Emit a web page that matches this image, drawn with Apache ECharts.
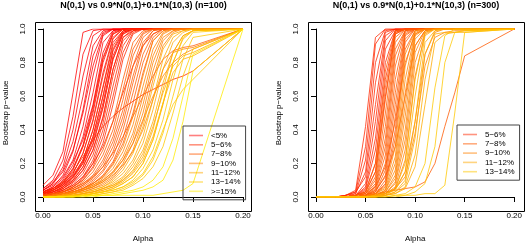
<!DOCTYPE html>
<html><head><meta charset="utf-8">
<script src="https://cdn.jsdelivr.net/npm/echarts@6/dist/echarts.min.js"></script>
<style>html,body{margin:0;padding:0;background:#fff}#c{width:525px;height:248px}</style>
</head><body><div id="c"></div>
<script>
// x positions (alpha grid)
const alpha = [0,0.01,0.02,0.03,0.04,0.05,0.06,0.07,0.08,0.09,0.10,0.11,0.12,0.13,0.14,0.15,0.20];
const xTickLabels = ['0.00','0.05','0.10','0.15','0.20'];
const yTickLabels = ['0.0','0.2','0.4','0.6','0.8','1.0'];
const titleLeft = 'N(0,1) vs 0.9*N(0,1)+0.1*N(10,3) (n=100)';
const titleRight = 'N(0,1) vs 0.9*N(0,1)+0.1*N(10,3) (n=300)';
const xName = 'Alpha';
const yName = 'Bootstrap p\u2212value';
const groupsLeft = ['<5%','5\u22126%','7\u22128%','9\u221210%','11\u221212%','13\u221214%','>=15%'];
const groupsRight = ['5\u22126%','7\u22128%','9\u221210%','11\u221212%','13\u221214%'];

// ---- left panel (n=100) ----
const left_lt5 = [
[.07,.13,.27,.62,.98,1,1,1,1,1,1,1,1,1,1,1,1],
[.05,.10,.22,.48,.85,.99,1,1,1,1,1,1,1,1,1,1,1],
[.04,.08,.18,.40,.72,.96,1,1,1,1,1,1,1,1,1,1,1],
[.05,.09,.16,.33,.60,.90,.99,1,1,1,1,1,1,1,1,1,1],
[.04,.08,.15,.28,.50,.78,.97,1,1,1,1,1,1,1,1,1,1],
[.03,.06,.13,.27,.52,.84,.98,1,1,1,1,1,1,1,1,1,1],
[.04,.07,.12,.22,.42,.72,.96,1,1,1,1,1,1,1,1,1,1],
[.02,.05,.10,.19,.36,.62,.92,.99,1,1,1,1,1,1,1,1,1],
[.03,.05,.09,.17,.31,.54,.83,.98,1,1,1,1,1,1,1,1,1],
[.03,.06,.11,.21,.34,.55,.86,.99,1,1,1,1,1,1,1,1,1],
[.02,.04,.08,.16,.30,.50,.80,.97,1,1,1,1,1,1,1,1,1],
[.02,.04,.07,.14,.26,.46,.74,.95,1,1,1,1,1,1,1,1,1],
[.03,.05,.08,.13,.22,.40,.66,.92,.99,1,1,1,1,1,1,1,1],
[.01,.03,.06,.12,.21,.36,.60,.87,.98,1,1,1,1,1,1,1,1],
[.02,.04,.07,.12,.20,.34,.56,.84,.98,1,1,1,1,1,1,1,1],
[.02,.03,.06,.10,.18,.31,.53,.82,.97,1,1,1,1,1,1,1,1],
[.01,.02,.05,.09,.16,.28,.47,.76,.95,.99,1,1,1,1,1,1,1]
];
const left_5_6 = [
[.03,.05,.09,.17,.30,.52,.82,.97,1,1,1,1,1,1,1,1,1],
[.02,.04,.08,.14,.26,.45,.72,.94,1,1,1,1,1,1,1,1,1],
[.02,.04,.07,.12,.22,.40,.65,.90,.99,1,1,1,1,1,1,1,1],
[.01,.03,.06,.11,.20,.36,.60,.88,.99,1,1,1,1,1,1,1,1],
[.02,.03,.05,.10,.18,.32,.54,.82,.97,1,1,1,1,1,1,1,1],
[.01,.03,.05,.09,.16,.28,.48,.76,.95,1,1,1,1,1,1,1,1],
[.01,.02,.04,.08,.14,.25,.44,.72,.93,.99,1,1,1,1,1,1,1],
[.01,.02,.04,.07,.12,.22,.40,.66,.90,.99,1,1,1,1,1,1,1],
[.01,.02,.03,.06,.11,.20,.36,.60,.86,.98,1,1,1,1,1,1,1],
[.00,.01,.03,.06,.10,.18,.32,.55,.82,.97,1,1,1,1,1,1,1],
[.03,.05,.09,.15,.24,.34,.42,.48,.53,.57,.61,.64,.67,.70,.72,.75,1],
[.01,.02,.04,.07,.12,.20,.30,.45,.62,.78,.90,.97,1,1,1,1,1]
];
const left_7_8 = [
[.01,.02,.03,.06,.10,.17,.28,.45,.70,.92,.99,1,1,1,1,1,1],
[.01,.02,.03,.05,.09,.15,.25,.40,.64,.88,.98,1,1,1,1,1,1],
[.00,.01,.03,.05,.08,.13,.22,.36,.58,.84,.97,1,1,1,1,1,1],
[.00,.01,.02,.04,.07,.12,.20,.33,.52,.78,.95,1,1,1,1,1,1],
[.01,.01,.02,.04,.07,.11,.18,.30,.48,.72,.92,.99,1,1,1,1,1],
[.00,.01,.02,.04,.06,.10,.16,.27,.44,.68,.90,.99,1,1,1,1,1],
[.00,.01,.02,.03,.05,.09,.15,.24,.40,.62,.85,.97,1,1,1,1,1],
[.01,.02,.03,.05,.08,.12,.18,.26,.36,.48,.60,.72,.82,.87,.89,.90,1],
[.00,.01,.02,.03,.05,.08,.13,.21,.35,.56,.80,.95,1,1,1,1,1],
[.00,.01,.01,.03,.05,.08,.12,.20,.32,.50,.74,.93,.99,1,1,1,1]
];
const left_9_10 = [
[.00,.01,.02,.03,.05,.08,.12,.19,.30,.48,.72,.93,.99,1,1,1,1],
[.00,.01,.01,.03,.04,.07,.11,.17,.27,.43,.66,.88,.98,1,1,1,1],
[.00,.00,.01,.02,.04,.06,.10,.15,.24,.38,.60,.84,.97,1,1,1,1],
[.00,.01,.01,.02,.04,.06,.09,.14,.22,.35,.55,.80,.95,.99,1,1,1],
[.00,.00,.01,.02,.03,.05,.08,.12,.20,.32,.50,.75,.93,.99,1,1,1],
[.00,.01,.02,.03,.05,.07,.10,.15,.22,.32,.46,.60,.72,.80,.85,.88,1],
[.00,.00,.01,.02,.03,.05,.07,.11,.18,.28,.45,.70,.90,.98,1,1,1],
[.00,.01,.01,.02,.04,.06,.09,.13,.19,.27,.40,.58,.76,.86,.88,.89,1]
];
const left_11_12 = [
[.00,.00,.01,.02,.03,.04,.06,.10,.16,.26,.42,.66,.88,.97,.99,1,1],
[.00,.00,.01,.01,.02,.04,.06,.09,.14,.22,.36,.58,.82,.95,.99,1,1],
[.00,.00,.01,.01,.02,.03,.05,.08,.12,.20,.32,.52,.76,.92,.98,1,1],
[.00,.00,.00,.01,.02,.03,.05,.07,.11,.18,.28,.45,.68,.86,.96,.99,1],
[.00,.00,.01,.01,.02,.03,.04,.06,.10,.16,.26,.42,.62,.78,.84,.86,1],
[.00,.00,.00,.01,.01,.02,.04,.06,.09,.14,.22,.36,.56,.74,.82,.84,1],
[.00,.00,.01,.01,.02,.03,.05,.07,.10,.15,.24,.40,.64,.86,.96,.99,1],
[.00,.00,.00,.01,.01,.02,.03,.05,.08,.12,.20,.34,.55,.80,.94,.99,1]
];
const left_13_14 = [
[.00,.00,.00,.01,.01,.02,.03,.05,.08,.12,.20,.34,.56,.80,.95,.99,1],
[.00,.00,.00,.00,.01,.02,.03,.04,.06,.10,.17,.28,.46,.70,.90,.98,1],
[.00,.00,.00,.00,.01,.01,.02,.03,.05,.08,.13,.22,.38,.60,.82,.95,1],
[.00,.00,.00,.01,.01,.02,.03,.04,.06,.09,.14,.24,.40,.55,.64,.70,1],
[.00,.00,.00,.00,.01,.01,.02,.03,.04,.07,.11,.18,.30,.50,.72,.88,1]
];
const left_ge15 = [
[.00,.00,.00,.00,.00,.00,.01,.01,.01,.01,.01,.01,.02,.03,.04,.08,1],
[.00,.00,.00,.00,.00,.01,.01,.01,.02,.03,.04,.06,.10,.22,.45,.75,1],
[.00,.00,.00,.00,.01,.01,.01,.02,.03,.04,.06,.10,.18,.35,.60,.85,1]
];

// ---- right panel (n=300) ----
const right_5_6 = [
[0,0,0,.01,.03,.30,.91,1,1,1,1,1,1,1,1,1,1],
[0,0,0,.01,.04,.42,.95,1,1,1,1,1,1,1,1,1,1],
[0,0,0,.01,.02,.22,.80,.99,1,1,1,1,1,1,1,1,1],
[0,0,0,0,.02,.15,.68,.98,1,1,1,1,1,1,1,1,1],
[0,0,0,.01,.03,.12,.55,.96,1,1,1,1,1,1,1,1,1],
[0,0,0,0,.01,.08,.45,.93,1,1,1,1,1,1,1,1,1],
[0,0,0,0,.01,.06,.35,.88,.99,1,1,1,1,1,1,1,1],
[0,0,0,0,.01,.05,.28,.80,.99,1,1,1,1,1,1,1,1],
[0,0,0,0,.01,.04,.20,.70,.98,1,1,1,1,1,1,1,1],
[0,0,0,0,.01,.03,.15,.60,.97,1,1,1,1,1,1,1,1]
];
const right_7_8 = [
[0,0,0,0,.01,.03,.20,.75,.99,1,1,1,1,1,1,1,1],
[0,0,0,0,.01,.03,.15,.65,.98,1,1,1,1,1,1,1,1],
[0,0,0,0,.01,.02,.12,.58,.97,1,1,1,1,1,1,1,1],
[0,0,0,0,.01,.02,.10,.50,.95,1,1,1,1,1,1,1,1],
[0,0,0,0,0,.02,.08,.42,.92,1,1,1,1,1,1,1,1],
[0,0,0,0,0,.01,.07,.35,.88,.99,1,1,1,1,1,1,1],
[0,0,0,0,0,.01,.06,.30,.84,.99,1,1,1,1,1,1,1],
[0,0,0,0,0,.01,.05,.25,.78,.99,1,1,1,1,1,1,1],
[0,0,0,0,0,.01,.04,.20,.70,.98,1,1,1,1,1,1,1],
[0,0,0,0,0,.01,.03,.16,.62,.97,1,1,1,1,1,1,1],
[0,0,0,0,0,.01,.03,.13,.55,.96,1,1,1,1,1,1,1],
[0,0,0,0,0,.01,.02,.10,.48,.94,1,1,1,1,1,1,1],
[0,0,0,0,0,0,.02,.08,.40,.92,1,1,1,1,1,1,1],
[0,0,0,0,0,0,.02,.07,.35,.88,.99,1,1,1,1,1,1],
[0,0,0,0,.01,.02,.06,.18,.45,.80,.97,1,1,1,1,1,1],
[0,0,0,0,0,.01,.04,.12,.30,.60,.90,.99,1,1,1,1,1],
[0,0,0,0,0,.01,.02,.03,.04,.05,.06,.09,.20,.42,.62,.84,1]
];
const right_9_10 = [
[0,0,0,0,0,.01,.02,.06,.30,.85,.99,1,1,1,1,1,1],
[0,0,0,0,0,0,.02,.05,.24,.78,.99,1,1,1,1,1,1],
[0,0,0,0,0,0,.01,.04,.20,.70,.98,1,1,1,1,1,1],
[0,0,0,0,0,0,.01,.04,.16,.62,.97,1,1,1,1,1,1],
[0,0,0,0,0,0,.01,.03,.13,.55,.96,1,1,1,1,1,1],
[0,0,0,0,0,0,.01,.03,.11,.48,.94,1,1,1,1,1,1],
[0,0,0,0,0,0,.01,.02,.09,.40,.90,.99,1,1,1,1,1],
[0,0,0,0,0,0,.01,.02,.08,.34,.86,.99,1,1,1,1,1],
[0,0,0,0,0,0,0,.02,.06,.28,.80,.98,1,1,1,1,1],
[0,0,0,0,0,0,0,.01,.05,.22,.72,.97,1,1,1,1,1],
[0,0,0,0,0,0,.01,.02,.05,.15,.45,.85,.98,1,1,1,1],
[0,0,0,0,0,0,.01,.02,.05,.12,.38,.78,.95,.98,.99,.99,1]
];
const right_11_12 = [
[0,0,0,0,0,0,.01,.02,.05,.20,.70,.98,1,1,1,1,1],
[0,0,0,0,0,0,.01,.02,.04,.15,.60,.96,1,1,1,1,1],
[0,0,0,0,0,0,0,.01,.03,.10,.45,.92,.99,1,1,1,1],
[0,0,0,0,0,0,0,.01,.03,.08,.35,.85,.99,1,1,1,1],
[0,0,0,0,0,0,0,.01,.02,.06,.25,.70,.97,.98,.98,.98,1],
[0,0,0,0,0,0,0,.01,.02,.05,.18,.55,.92,.97,.98,.99,1]
];
const right_13_14 = [
[0,0,0,0,0,0,0,0,.01,.02,.06,.20,.65,.96,1,1,1],
[0,0,0,0,0,0,0,0,.01,.01,.03,.08,.30,.80,.98,.99,1],
[0,0,0,0,0,0,0,0,0,.01,.01,.02,.02,.07,.50,.98,1]
];

const groupRGB = {
  '<5%':'255,0,0',
  '5\u22126%':'255,40,0',
  '7\u22128%':'255,90,0',
  '9\u221210%':'255,130,0',
  '11\u221212%':'255,170,0',
  '13\u221214%':'255,200,0',
  '>=15%':'255,235,0'
};
const leftData = [left_lt5,left_5_6,left_7_8,left_9_10,left_11_12,left_13_14,left_ge15];
const rightData = [right_5_6,right_7_8,right_9_10,right_11_12,right_13_14];

const FONT = 'Liberation Sans, Arial, Helvetica, sans-serif';
const series = [];
function addPanel(groups, data, gi) {
  groups.forEach((name, k) => {
    data[k].forEach(c => {
      series.push({
        type:'line', name, xAxisIndex:gi, yAxisIndex:gi, symbol:'none', silent:true,
        data: alpha.map((a,i)=>[a,c[i]]),
        lineStyle:{width:1,color:'rgba('+groupRGB[name]+',0.78)'},
        itemStyle:{color:'rgba('+groupRGB[name]+',0.5)'}
      });
    });
  });
}
addPanel(groupsLeft, leftData, 0);
addPanel(groupsRight, rightData, 1);

function xAx(gi){
  return {type:'value', gridIndex:gi, min:0, max:0.2, interval:0.05, offset:7,
    axisLine:{show:true,lineStyle:{color:'#000',width:1}},
    axisTick:{show:true,length:5,lineStyle:{color:'#000'}},
    axisLabel:{fontSize:8,color:'#000',fontFamily:FONT,margin:8,
      formatter:v=>xTickLabels[Math.round(v/0.05)]},
    splitLine:{show:false},
    name:xName,nameLocation:'middle',nameGap:31,
    nameTextStyle:{fontSize:8,color:'#000',fontFamily:FONT}};
}
function yAx(gi){
  return {type:'value', gridIndex:gi, min:0, max:1, interval:0.2, offset:8,
    axisLine:{show:true,lineStyle:{color:'#000',width:1}},
    axisTick:{show:true,length:5,lineStyle:{color:'#000'}},
    axisLabel:{fontSize:8,color:'#000',fontFamily:FONT,margin:8,rotate:90,
      formatter:v=>yTickLabels[Math.round(v/0.2)]},
    splitLine:{show:false},
    name:yName,nameLocation:'middle',nameGap:25,nameRotate:90,
    nameTextStyle:{fontSize:8,color:'#000',fontFamily:FONT}};
}
function legendFor(names, left, top){
  return {data:names, orient:'vertical', left, top, selectedMode:false,
    icon:'rect', itemWidth:14, itemHeight:1.6, itemGap:0.3,
    borderColor:'#444', borderWidth:1, padding:[5,5,4,6],
    textStyle:{fontSize:8,color:'#000',fontFamily:FONT,lineHeight:9,padding:[0,0,0,3]}};
}

const chart = echarts.init(document.getElementById('c'), null, {renderer:'canvas'});
chart.setOption({
  animation:false,
  backgroundColor:'#fff',
  grid:[
    {left:43, top:29, width:200, height:176},
    {left:316, top:29, width:200, height:176}
  ],
  xAxis:[xAx(0), xAx(1)],
  yAxis:[yAx(0), yAx(1)],
  legend:[legendFor(groupsLeft,183,126), legendFor(groupsRight,457,125)],
  graphic:[
    {type:'rect', shape:{x:35.5,y:22.5,width:216,height:189}, style:{fill:'none',stroke:'#000',lineWidth:1}, silent:true, z:10},
    {type:'rect', shape:{x:308.5,y:22.5,width:216,height:189}, style:{fill:'none',stroke:'#000',lineWidth:1}, silent:true, z:10},
    {type:'text', x:143.5, y:1, style:{text:titleLeft, textAlign:'center', textVerticalAlign:'top', font:'bold 9px '+FONT, fill:'#000'}, silent:true},
    {type:'text', x:416, y:1, style:{text:titleRight, textAlign:'center', textVerticalAlign:'top', font:'bold 9px '+FONT, fill:'#000'}, silent:true}
  ],
  series
});
</script></body></html>
